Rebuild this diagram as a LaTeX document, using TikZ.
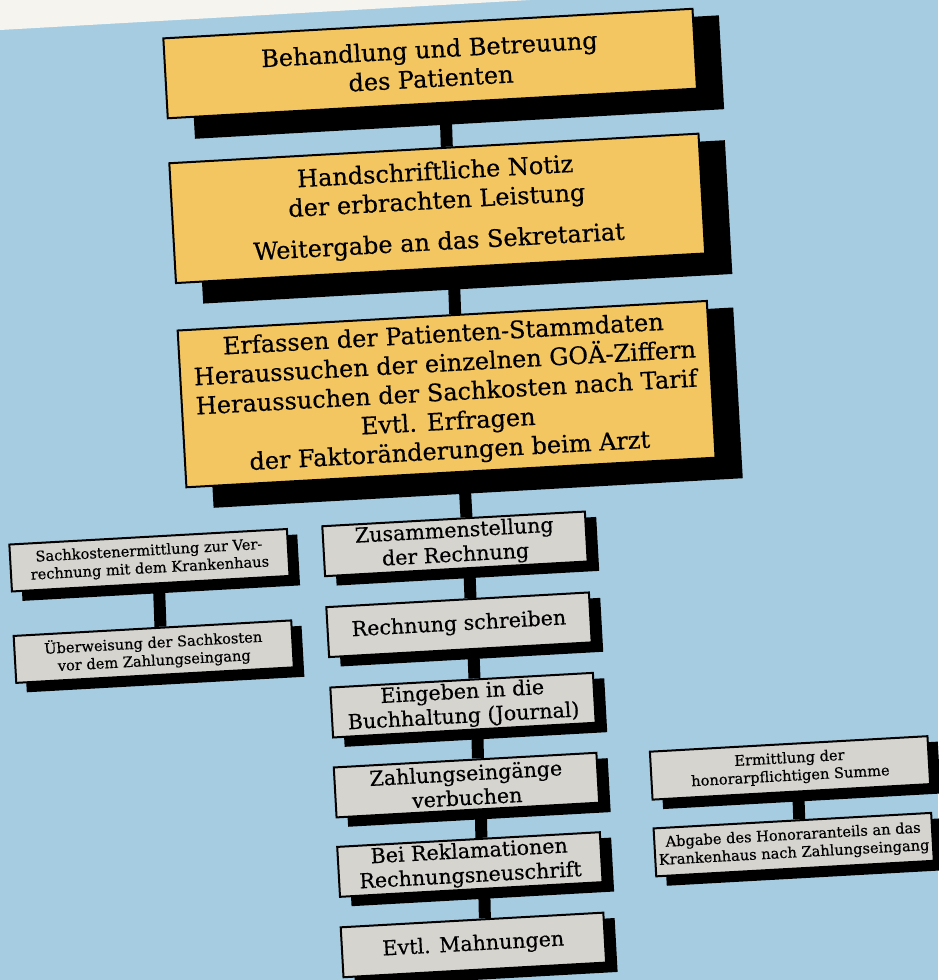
\documentclass[tikz,border=0pt]{standalone}
\usepackage{fontspec}
\setmainfont{DejaVu Serif}[FakeBold=0.4]
\usepackage{xcolor}
\usetikzlibrary{calc}

\definecolor{bgblue}{RGB}{166,204,225}
\definecolor{paper}{RGB}{246,244,238}
\definecolor{boxyellow}{RGB}{243,198,98}
\definecolor{boxgray}{RGB}{214,212,207}

\tikzset{
  bigbox/.style={draw=black,line width=1pt,fill=boxyellow,align=center,inner sep=0pt,
    minimum width=265pt,font=\fontsize{12}{14.6}\selectfont},
  midbox/.style={draw=black,line width=1pt,fill=boxgray,align=center,inner sep=0pt,
    minimum width=131.5pt,minimum height=25pt,font=\fontsize{10.3}{12.2}\selectfont},
  sidebox/.style={draw=black,line width=1pt,fill=boxgray,align=center,inner sep=0pt,
    minimum width=139pt,minimum height=24pt,font=\fontsize{7.3}{8.9}\selectfont},
  link/.style={line width=6pt,black},
}

\begin{document}
\begin{tikzpicture}[x=0.5pt,y=-0.5pt]
	 \useasboundingbox (0,0) rectangle (938,980);
	 \fill[bgblue] (0,0) rectangle (938,980);
	 \fill[paper] (0,0) -- (530,0) -- (0,30) -- cycle;

	 \begin{scope}[rotate around={3.2:(469,490)},transform shape]
	 % shadows
	 \fill[black] (215,30) rectangle (745,124);
	 \fill[black] (214,155) rectangle (744,289);
	 \fill[black] (213,322.5) rectangle (743,493.5);
	 \fill[black] (331.5,524) rectangle (594.5,578);
	 \fill[black] (331,605) rectangle (594,659);
	 \fill[black] (330.5,685.5) rectangle (593.5,739.5);
	 \fill[black] (329.5,765.5) rectangle (592.5,819.5);
	 \fill[black] (328.5,845) rectangle (591.5,899);
	 \fill[black] (327.5,925.5) rectangle (590.5,979.5);
	 \fill[black] (17,524.8) rectangle (295,575.8);
	 \fill[black] (16.2,616.3) rectangle (294.2,667.3);
	 \fill[black] (645,767.4) rectangle (923,819.4);
	 \fill[black] (644.4,844.2) rectangle (922.4,896.2);

	 % main column
	 \node[bigbox,minimum height=40pt] (behandlung) at (454,62) {Behandlung und Betreuung\\des Patienten};
	 \node[bigbox,minimum height=60pt] (notiz) at (453,207) {Handschriftliche Notiz\\der erbrachten Leistung\\[6pt]Weitergabe an das Sekretariat};
	 \node[bigbox,minimum height=78.5pt] (erfassen) at (452,393) {Erfassen der Patienten-Stammdaten\\Heraussuchen der einzelnen GOÄ-Ziffern\\Heraussuchen der Sachkosten nach Tarif\\Evtl. Erfragen\\der Faktoränderungen beim Arzt};
	 \node[midbox] (zusammen) at (452,543) {Zusammenstellung\\der Rechnung};
	 \node[midbox] (schreiben) at (451.5,624) {Rechnung schreiben};
	 \node[midbox] (journal) at (451,704.5) {Eingeben in die\\Buchhaltung (Journal)};
	 \node[midbox] (zahlung) at (450,784.5) {Zahlungseingänge\\verbuchen};
	 \node[midbox] (reklam) at (449,864) {Bei Reklamationen\\Rechnungsneuschrift};
	 \node[midbox] (mahnung) at (448,944.5) {Evtl. Mahnungen};

	 % side columns
	 \node[sidebox,minimum height=23.5pt] (sachkosten) at (146,542.3) {Sachkostenermittlung zur Ver-\\rechnung mit dem Krankenhaus};
	 \node[sidebox,minimum height=23.5pt] (ueberweisung) at (145.2,633.8) {Überweisung der Sachkosten\\vor dem Zahlungseingang};
	 \node[sidebox] (honorar) at (774,785.4) {Ermittlung der\\honorarpflichtigen Summe};
	 \node[sidebox] (abgabe) at (773.4,862.2) {Abgabe des Honoraranteils an das\\Krankenhaus nach Zahlungseingang};

	 % links
	 \draw[link] ($(behandlung.south west)!0.5245!(behandlung.south east)$) -- ($(notiz.north west)!0.5245!(notiz.north east)$);
	 \draw[link] ($(notiz.south west)!0.5245!(notiz.south east)$) -- ($(erfassen.north west)!0.5245!(erfassen.north east)$);
	 \draw[link] ($(erfassen.south west)!0.5245!(erfassen.south east)$) -- ($(zusammen.north west)!0.549!(zusammen.north east)$);
	 \draw[link] ($(zusammen.south west)!0.549!(zusammen.south east)$) -- ($(schreiben.north west)!0.549!(schreiben.north east)$);
	 \draw[link] ($(schreiben.south west)!0.549!(schreiben.south east)$) -- ($(journal.north west)!0.549!(journal.north east)$);
	 \draw[link] ($(journal.south west)!0.549!(journal.south east)$) -- ($(zahlung.north west)!0.549!(zahlung.north east)$);
	 \draw[link] ($(zahlung.south west)!0.549!(zahlung.south east)$) -- ($(reklam.north west)!0.549!(reklam.north east)$);
	 \draw[link] ($(reklam.south west)!0.549!(reklam.south east)$) -- ($(mahnung.north west)!0.549!(mahnung.north east)$);
	 \draw[link] ($(sachkosten.south west)!0.529!(sachkosten.south east)$) -- ($(ueberweisung.north west)!0.529!(ueberweisung.north east)$);
	 \draw[link] ($(honorar.south west)!0.525!(honorar.south east)$) -- ($(abgabe.north west)!0.525!(abgabe.north east)$);
	 \end{scope}
\end{tikzpicture}
\end{document}
